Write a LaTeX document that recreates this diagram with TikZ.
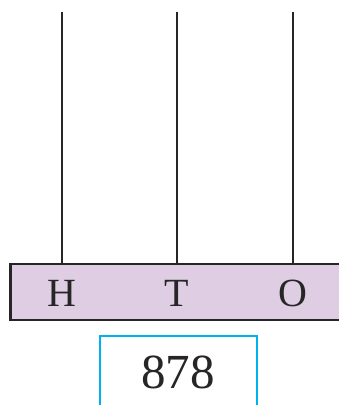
\documentclass[tikz,border=0pt]{standalone}
\usepackage{fontspec}
\setmainfont{Liberation Serif}
\definecolor{basefill}{RGB}{223,205,227}
\definecolor{boxblue}{RGB}{0,176,240}
\begin{document}
\begin{tikzpicture}[x=1pt,y=-1pt,
  rod/.style={line width=2pt, draw=black!85},
  lbl/.style={font=\fontsize{40}{42}\selectfont, text=black!85, inner sep=0pt, anchor=base},
  numlbl/.style={font=\fontsize{49}{51}\selectfont, text=black!85, inner sep=0pt, anchor=base}]
\useasboundingbox (0,0) rectangle (339,405);
\begin{scope}
\clip (0,0) rectangle (339,405);
\draw[line width=2.5pt, draw=black!85, fill=basefill] (10.5,264) rectangle (345,320);
\draw[line width=2.5pt, draw=boxblue, fill=white] (100,336) rectangle (257,415);
\end{scope}
\coordinate (h0) at (62,12);
\coordinate (h1) at (62,264);
\coordinate (t0) at (177,12);
\coordinate (t1) at (177,264);
\coordinate (o0) at (293,12);
\coordinate (o1) at (293,264);
\draw[rod] (h0) -- (h1);
\draw[rod] (t0) -- (t1);
\draw[rod] (o0) -- (o1);
\node[lbl] (H) at (62,306) {H};
\node[lbl] (T) at (177,306) {T};
\node[lbl] (O) at (293,306) {O};
\node[numlbl] (N) at (178,388) {878};
\end{tikzpicture}
\end{document}
